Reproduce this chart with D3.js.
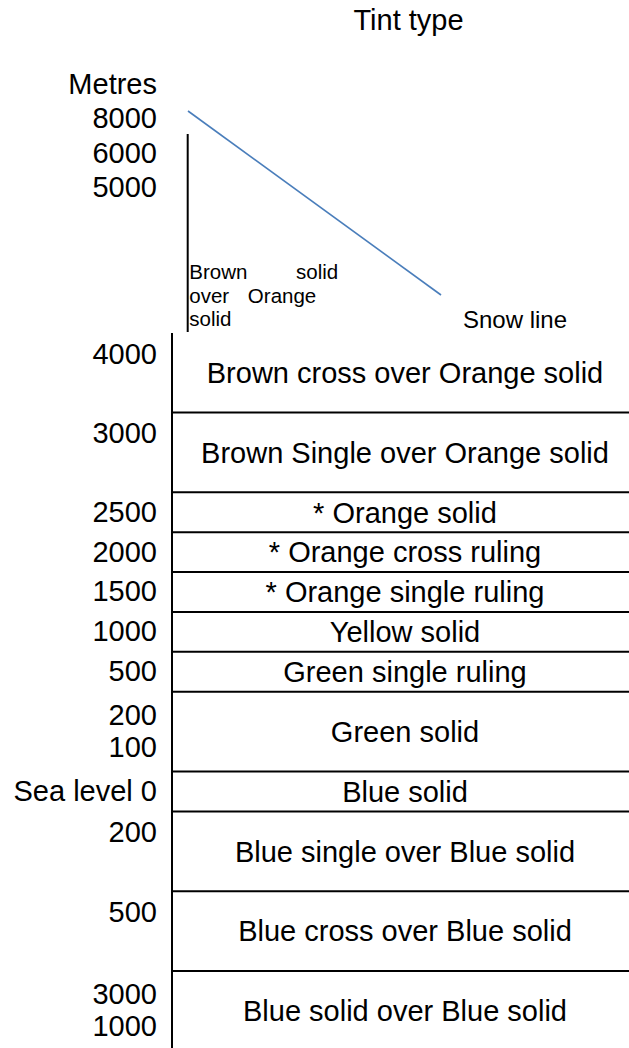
<!DOCTYPE html>
<html><head><meta charset="utf-8">
<script src="https://cdn.jsdelivr.net/npm/d3@7"></script>
<style>html,body{margin:0;padding:0;background:#fff;overflow:hidden}</style>
</head><body>
<svg id="c" width="629" height="1048"></svg>
<script>
// ---- data ----
const title = "Tint type";
const axisTitle = "Metres";
const upperElevations = ["8000", "6000", "5000"];
const snowLabel = "Snow line";
const snowZoneLines = [["Brown", "solid"], ["over", "Orange"], ["solid"]];
const snowLine = [[0, 1], [1, 0]];
const tintTypes = [
  "Brown cross over Orange solid",
  "Brown Single over Orange solid",
  "* Orange solid",
  "* Orange cross ruling",
  "* Orange single ruling",
  "Yellow solid",
  "Green single ruling",
  "Green solid",
  "Blue solid",
  "Blue single over Blue solid",
  "Blue cross over Blue solid",
  "Blue solid over Blue solid"
];
const rowSpans = [2, 2, 1, 1, 1, 1, 1, 2, 1, 2, 2, 2];
const elevationLabels = [
  ["4000"], ["3000"], ["2500"], ["2000"], ["1500"], ["1000"], ["500"],
  ["200", "100"], ["Sea level 0"], ["200"], ["500"], ["3000", "1000"]
];

// ---- layout ----
const svg = d3.select("#c");
const FONT = "'Liberation Sans', Arial, Helvetica, sans-serif";
const labelRight = 157;
const tableLeft = 172, tableRight = 638, svgRight = 629;

svg.append("text").attr("x", 408.5).attr("y", 30)
  .attr("text-anchor", "middle").attr("font-family", FONT).attr("font-size", 29)
  .text(title);

// upper panel labels
const upperLines = [axisTitle].concat(upperElevations);
svg.selectAll("text.up").data(upperLines).enter().append("text")
  .attr("class", "up")
  .attr("x", labelRight).attr("y", (d, i) => 94 + i * 34.3)
  .attr("text-anchor", "end").attr("font-family", FONT).attr("font-size", 29)
  .text(d => d);

// upper vertical line
svg.append("line").attr("x1", 187.7).attr("x2", 187.7).attr("y1", 134).attr("y2", 332)
  .attr("stroke", "#000").attr("stroke-width", 2);

// snow line
const sx = d3.scaleLinear().domain([0, 1]).range([188, 441]);
const sy = d3.scaleLinear().domain([0, 1]).range([295, 111]);
svg.append("path").datum(snowLine)
  .attr("d", d3.line().x(d => sx(d[0])).y(d => sy(d[1])))
  .attr("fill", "none").attr("stroke", "#4a7ebb").attr("stroke-width", 1.6);

svg.append("text").attr("x", 463).attr("y", 328)
  .attr("font-family", FONT).attr("font-size", 24).text(snowLabel);

const zoneSpacing = [43, 13, 0];
svg.selectAll("text.zone").data(snowZoneLines).enter().append("text")
  .attr("class", "zone")
  .attr("x", 189.3).attr("y", (d, i) => 279 + i * 23.5)
  .attr("font-family", FONT).attr("font-size", 20.5)
  .attr("word-spacing", (d, i) => zoneSpacing[i])
  .text(d => d.join(" "));

// lower table
const totalUnits = d3.sum(rowSpans);
const y = d3.scaleLinear().domain([0, totalUnits]).range([332.7, 332.7 + totalUnits * 39.89]);
const cum = d3.cumsum(rowSpans);
const rows = tintTypes.map((t, i) => ({
  name: t,
  span: rowSpans[i],
  labels: elevationLabels[i],
  top: y(i === 0 ? 0 : cum[i - 1]),
  bottom: y(cum[i])
}));

svg.append("line").attr("x1", tableLeft).attr("x2", tableLeft).attr("y1", 333).attr("y2", 1048)
  .attr("stroke", "#000").attr("stroke-width", 2);

svg.selectAll("line.row").data(rows.slice(1)).enter().append("line")
  .attr("class", "row")
  .attr("x1", tableLeft).attr("x2", svgRight)
  .attr("y1", d => d.top).attr("y2", d => d.top)
  .attr("stroke", "#000").attr("stroke-width", 2);

svg.selectAll("text.cell").data(rows).enter().append("text")
  .attr("class", "cell")
  .attr("x", (tableLeft + tableRight) / 2)
  .attr("y", d => (d.top + d.bottom) / 2 + 10.4)
  .attr("text-anchor", "middle").attr("font-family", FONT).attr("font-size", 29)
  .text(d => d.name);

rows.forEach(r => {
  const c = (r.top + r.bottom) / 2;
  let ys;
  if (r.labels.length === 2) ys = [c + 9.5 - 16, c + 9.5 + 16];
  else if (r.span === 1) ys = [c + 9.5];
  else ys = [r.top + 31];
  r.labels.forEach((l, j) => {
    svg.append("text").attr("x", labelRight).attr("y", ys[j])
      .attr("text-anchor", "end").attr("font-family", FONT).attr("font-size", 29)
      .text(l);
  });
});
</script>
</body></html>
